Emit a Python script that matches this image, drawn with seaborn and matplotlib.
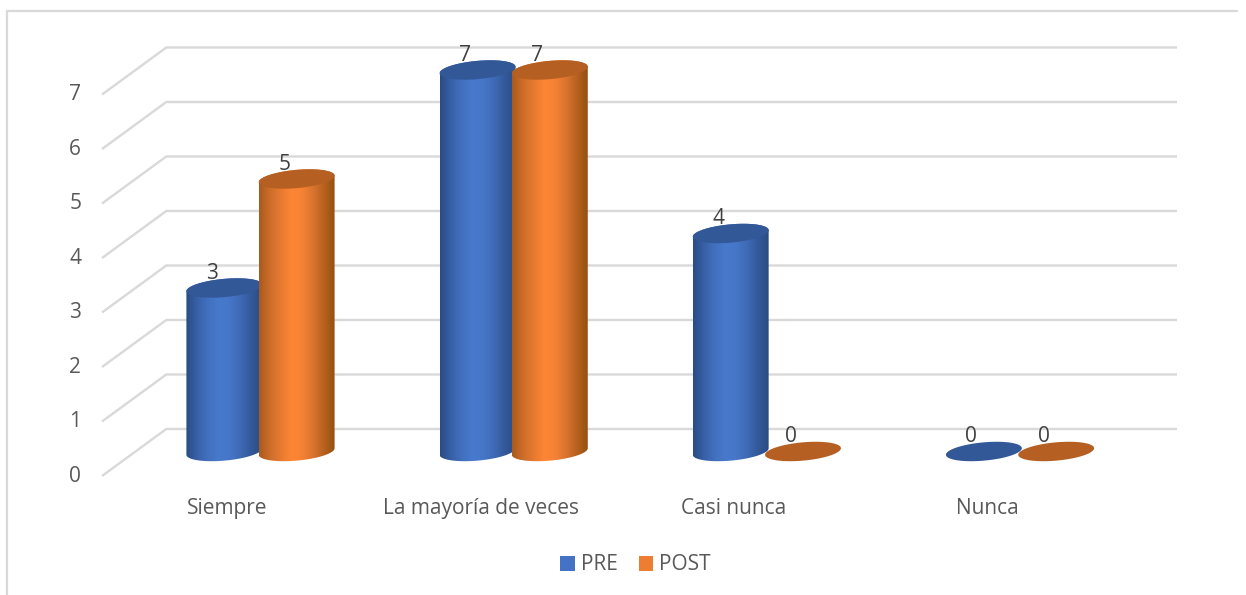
import numpy as np
import pandas as pd
import matplotlib
matplotlib.use("Agg")
import matplotlib.pyplot as plt
from matplotlib.colors import LinearSegmentedColormap
from matplotlib.lines import Line2D
from matplotlib.patches import Patch, PathPatch, Polygon
from matplotlib.path import Path
import seaborn as sns

# Survey answers per category
categorias = ["Siempre", "La mayoría de veces", "Casi nunca", "Nunca"]
pre = [3, 7, 4, 0]
post = [5, 7, 0, 0]
series = ["PRE", "POST"]
niveles = list(range(8))

# Colours
color_serie = {"PRE": "#4472C4", "POST": "#ED7D31"}
color_tapa = {"PRE": "#335897", "POST": "#B55F22"}
degradado = {
    "PRE": ["#2A4C85", "#3860A6", "#4270BF", "#4779CC", "#4676C8", "#3F6AB6", "#33599A", "#2B4C84"],
    "POST": ["#A95A1E", "#CC6D2A", "#E67A31", "#FD8635", "#F58234", "#D9742E", "#B8611F", "#94500F"],
}
GRIS_REJILLA = "#D9D9D9"
GRIS_TEXTO = "#595959"
GRIS_DATO = "#404040"

# Pseudo-3D box: floor depth and wall position in data units
PROF_FONDO = 0.413
PROF_FRENTE = -0.45
X_FONDO = -0.372
X_DERECHA = 3.620
X_FRENTE = -0.626
ELIPSE_B = 0.168     # half height of a cylinder cap
ELIPSE_S = 0.060     # tilt of a cylinder cap
ANCHO_CILINDRO = 1.05

sns.set_theme(style="white")
plt.rcParams["font.family"] = ["Open Sans", "DejaVu Sans"]

W, H = 1246, 595
fig = plt.figure(figsize=(W / 100, H / 100), dpi=100)
ax = fig.add_axes([102 / W, 1 - 482 / H, (1177 - 102) / W, (482 - 30) / H])

tabla = pd.DataFrame({
    "categoria": categorias * 2,
    "serie": ["PRE"] * len(pre) + ["POST"] * len(post),
    "valor": pre + post,
})
sns.barplot(
    data=tabla, x="categoria", y="valor", hue="serie", hue_order=series,
    order=categorias, palette=color_serie, width=0.571, gap=0, dodge=True,
    legend=False, ax=ax, errorbar=None,
)
ax.set_xlim(X_FRENTE, X_DERECHA)
ax.set_ylim(-0.56, 7.734)
sns.despine(ax=ax, left=True, bottom=True)
ax.set_xlabel("")
ax.set_ylabel("")

# Back wall and side wall grid
for n in niveles:
    ax.plot([X_FRENTE, X_FONDO, X_DERECHA],
            [n + PROF_FRENTE, n + PROF_FONDO, n + PROF_FONDO],
            color=GRIS_REJILLA, lw=1.7, zorder=1, clip_on=False,
            solid_joinstyle="miter", solid_capstyle="butt")


def contorno_tapa(cx, cy, a):
    t = np.linspace(0, 2 * np.pi, 121)
    return np.column_stack([cx + a * np.cos(t),
                            cy + ELIPSE_B * np.sin(t) + ELIPSE_S * np.cos(t)])


def contorno_cuerpo(cx, alto, a):
    arriba = np.linspace(0, np.pi, 61)
    abajo = np.linspace(np.pi, 2 * np.pi, 61)
    tramo_sup = np.column_stack([cx + a * np.cos(arriba),
                                 alto + ELIPSE_B * np.sin(arriba) + ELIPSE_S * np.cos(arriba)])
    tramo_inf = np.column_stack([cx + a * np.cos(abajo),
                                 ELIPSE_B * np.sin(abajo) + ELIPSE_S * np.cos(abajo)])
    return np.vstack([tramo_sup, tramo_inf, tramo_sup[:1]])


# Turn every bar into a shaded cylinder with a tilted cap
orden = 3
for columna in range(len(categorias)):
    for contenedor, serie in zip(ax.containers, series):
        barra = contenedor[columna]
        cx = barra.get_x() + barra.get_width() / 2
        alto = barra.get_height()
        a = barra.get_width() * ANCHO_CILINDRO / 2
        if alto > 0:
            silueta = PathPatch(Path(contorno_cuerpo(cx, alto, a)),
                                transform=ax.transData, fc="none", ec="none")
            ax.add_patch(silueta)
            barra.set_clip_path(silueta)
            barra.set_zorder(orden)
            mapa = LinearSegmentedColormap.from_list(serie, degradado[serie])
            rampa = np.linspace(0, 1, 256).reshape(1, -1)
            imagen = ax.imshow(
                rampa, cmap=mapa, aspect="auto", interpolation="bilinear",
                extent=[cx - a, cx + a, -ELIPSE_B * 2, alto + ELIPSE_B * 2],
                zorder=orden + 0.1,
            )
            imagen.set_clip_path(silueta)
        else:
            barra.set_visible(False)
        ax.add_patch(Polygon(contorno_tapa(cx, alto, a), closed=True,
                             fc=color_tapa[serie], ec="none", zorder=orden + 0.2))
        ax.annotate(f"{alto:.0f}", xy=(cx, alto), xytext=(-9, 10.5),
                    textcoords="offset points", ha="center", va="center",
                    fontsize=15, color=GRIS_DATO, zorder=50)
        orden += 1

ax.set_xlim(X_FRENTE, X_DERECHA)
ax.set_ylim(-0.56, 7.734)

# Axis labels sit in front of the floor, shifted left and down like the box
ax.set_xticks(np.arange(len(categorias)) - 0.13)
ax.set_xticklabels(categorias, fontsize=15, color=GRIS_TEXTO)
ax.set_yticks(np.array(niveles) - 0.41)
ax.set_yticklabels([str(n) for n in niveles], fontsize=15, color=GRIS_TEXTO)
ax.tick_params(axis="x", length=0, pad=11.5)
ax.tick_params(axis="y", length=0, pad=15)
ax.patch.set_alpha(0)

# Outer frame: left and top edges
fig.add_artist(Line2D([6.5 / W, 6.5 / W, 1237 / W, ], [0, 1 - 11 / H, 1 - 11 / H],
                      color=GRIS_REJILLA, lw=1.6, solid_joinstyle="miter"))

fig.legend(
    handles=[Patch(fc=color_serie[s], ec="none", label=s) for s in series],
    loc="center", bbox_to_anchor=(635.5 / W, 1 - 565 / H), ncol=2, frameon=False,
    fontsize=15, labelcolor=GRIS_TEXTO, handlelength=0.7, handleheight=0.7,
    handletextpad=0.3, columnspacing=1.0,
)

fig.savefig("out.png", dpi=100)
